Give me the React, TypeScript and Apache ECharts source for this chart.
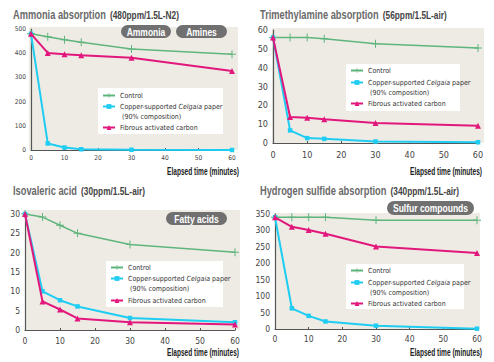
import React, { useEffect, useRef } from "react";
import * as echarts from "echarts";

const times = [0, 5, 10, 15, 30, 60];
const seriesNames = ["Control", "Copper-supported Celgaia paper", "Fibrous activated carbon"];

const ammoniaControl = [480, 468, 456, 445, 417, 396];
const ammoniaCopper = [480, 27, 10, 3, 1, 0];
const ammoniaCarbon = [480, 401, 396, 392, 381, 326];

const tmaControl = [56, 56, 56, 55.4, 52.7, 50.4];
const tmaCopper = [56, 6.7, 2.6, 2.2, 0.8, 0.4];
const tmaCarbon = [56, 13.8, 13.4, 12.6, 10.6, 9.1];

const ivaControl = [30, 29.2, 27.1, 25, 22.1, 20.1];
const ivaCopper = [30, 10, 7.7, 6.1, 3.1, 2];
const ivaCarbon = [30, 7.4, 5.3, 3, 2, 1.4];

const h2sControl = [340, 340, 340, 340, 331, 331];
const h2sCopper = [340, 63, 40, 23, 10, 1];
const h2sCarbon = [340, 311, 301, 290, 251, 231];

const titleMain = ["Ammonia absorption", "Trimethylamine absorption", "Isovaleric acid", "Hydrogen sulfide absorption"];
const titleSub = ["(480ppm/1.5L-N2)", "(56ppm/1.5L-air)", "(30ppm/1.5L-air)", "(340ppm/1.5L-air)"];
const badgeTexts = ["Ammonia", "Amines", "Fatty acids", "Sulfur compounds"];
const yMax = [500, 60, 30, 350];
const yInterval = [100, 10, 5, 50];
const xTicks = { min: 0, max: 60, interval: 10 };
const xName = "Elapsed time (minutes)";

const FONT = "'DejaVu Sans Condensed', 'Liberation Sans', sans-serif";
const TFONT = "'Liberation Sans', Arial, sans-serif";
const GREEN = "#5fb57c";
const CYAN = "#1fcdf2";
const MAGENTA = "#e2177c";
const BG = "#eeebe5";
const PLUS = "path://M3.5,0h1v3.5h3.5v1h-3.5v3.5h-1v-3.5h-3.5v-1h3.5z";

function measure(text: string, font: string): number {
  const c = document.createElement("canvas").getContext("2d")!;
  c.font = font;
  return c.measureText(text).width;
}

export default function App() {
  const ref = useRef<HTMLDivElement>(null);
  useEffect(() => {
    document.body.style.margin = "0";
    const chart = echarts.init(ref.current!, undefined, { renderer: "svg" });

    const grids = [
      { left: 31, top: 29, width: 201, height: 121 },
      { left: 273, top: 30, width: 205, height: 113 },
      { left: 25, top: 214, width: 210, height: 116 },
      { left: 275, top: 214, width: 202, height: 115 },
    ];
    const labelSizes = [6.5, 9, 8.5, 8.5];
    const xMargins = [4, 7, 6, 5];
    const panelData = [
      [ammoniaControl, ammoniaCopper, ammoniaCarbon],
      [tmaControl, tmaCopper, tmaCarbon],
      [ivaControl, ivaCopper, ivaCarbon],
      [h2sControl, h2sCopper, h2sCarbon],
    ];
    const bgRects = [
      [29, 27, 209, 123],
      [272, 28, 212, 115],
      [25, 210, 215, 120],
      [275, 213, 205, 116],
    ];
    const legendBoxes = [
      [98, 88, 125, 46],
      [346, 64, 114, 47],
      [106, 261, 117, 46],
      [346, 264, 118, 45],
    ];
    const legendPos = [
      { x: 102, c: [97, 108, 129] },
      { x: 350, c: [72, 84, 105] },
      { x: 110, c: [269, 280, 302] },
      { x: 350, c: [272, 284, 305] },
    ];
    const titlePos = [
      [13, 15],
      [260, 15],
      [13, 191],
      [260, 191],
    ];
    const xNamePos = [
      [239, 171],
      [482, 171],
      [239, 352],
      [482, 352],
    ];
    const badgeBoxes = [
      { x: 121, y: 25, w: 50, h: 13 },
      { x: 176, y: 25, w: 51, h: 13 },
      { x: 166, y: 212, w: 61, h: 13 },
      { x: 387, y: 201, w: 87, h: 14 },
    ];

    const colors = [GREEN, CYAN, MAGENTA];
    const symbols = [PLUS, "rect", "triangle"];
    const symbolSizes = [8, 4.5, 6];
    const lineWidths = [1.5, 2, 2];

    const series: any[] = [];
    panelData.forEach((arr, p) => {
      arr.forEach((vals, s) => {
        series.push({
          type: "line",
          name: seriesNames[s],
          xAxisIndex: p,
          yAxisIndex: p,
          data: times.map((t, i) => [t, vals[i]]),
          symbol: symbols[s],
          symbolSize: symbolSizes[s],
          showSymbol: true,
          itemStyle: { color: colors[s] },
          lineStyle: { color: colors[s], width: lineWidths[s] },
          z: s === 0 ? 3 : s === 1 ? 4 : 5,
        });
      });
    });

    const legendRich = {
      t: { fontFamily: FONT, fontSize: 7, color: "#333", lineHeight: 10 },
      i: { fontFamily: FONT, fontSize: 7, color: "#333", lineHeight: 10, fontStyle: "italic" },
    };
    const legends: any[] = [];
    legendPos.forEach((lp) => {
      seriesNames.forEach((nm, s) => {
        legends.push({
          data: [nm],
          left: lp.x,
          top: lp.c[s] - 5,
          orient: "vertical",
          padding: 0,
          itemWidth: 12,
          itemHeight: 6,
          selectedMode: false,
          z: 6,
          formatter: (name: string) =>
            name === seriesNames[1]
              ? "{t|Copper-supported }{i|Celgaia}{t| paper}\n{t| (90% composition)}"
              : "{t|" + name + "}",
          textStyle: s === 1 ? { padding: [10, 0, 0, 0], rich: legendRich } : { rich: legendRich },
        });
      });
    });

    const titleFont = "bold 12px " + TFONT;
    const titleScale = 93 / measure(titleMain[0], titleFont);
    const subFont = "bold 10px " + TFONT;
    const subScale = 69 / measure(titleSub[0], subFont);
    const badgeFont = "bold 10.5px " + TFONT;
    const badgeScale = 75 / measure(badgeTexts[3], badgeFont);
    const xnFont = "bold 10px " + TFONT;
    const xnScale = 72 / measure(xName, xnFont);

    const graphic: any[] = [];
    bgRects.forEach((r) =>
      graphic.push({
        type: "rect",
        shape: { x: r[0], y: r[1], width: r[2], height: r[3] },
        style: { fill: BG },
        z: -10,
        z2: 0,
        silent: true,
      })
    );
    legendBoxes.forEach((r) =>
      graphic.push({
        type: "rect",
        shape: { x: r[0], y: r[1], width: r[2], height: r[3] },
        style: { fill: "#ffffff" },
        z: 1,
        z2: 100,
        silent: true,
      })
    );
    badgeBoxes.forEach((b, i) => {
      graphic.push({
        type: "rect",
        shape: { x: b.x, y: b.y, width: b.w, height: b.h, r: b.h / 2 },
        style: { fill: "#707070" },
        z: 20,
        z2: 100,
      });
      graphic.push({
        type: "text",
        x: b.x + b.w / 2,
        y: b.y + b.h / 2 + 0.5,
        scaleX: badgeScale,
        style: {
          text: badgeTexts[i],
          fill: "#ffffff",
          font: badgeFont,
          textAlign: "center",
          textVerticalAlign: "middle",
        },
        z: 21,
        z2: 101,
      });
    });
    titleMain.forEach((t, p) => {
      const mw = measure(t, titleFont) * titleScale;
      graphic.push({
        type: "text",
        x: titlePos[p][0],
        y: titlePos[p][1],
        scaleX: titleScale,
        style: { text: t, font: titleFont, fill: "#6a6a6a", textVerticalAlign: "middle" },
        z: 20,
      });
      graphic.push({
        type: "text",
        x: titlePos[p][0] + mw + 4,
        y: titlePos[p][1] + 0.5,
        scaleX: subScale,
        style: { text: titleSub[p], font: subFont, fill: "#444", textVerticalAlign: "middle" },
        z: 20,
      });
      graphic.push({
        type: "text",
        x: xNamePos[p][0],
        y: xNamePos[p][1],
        scaleX: xnScale,
        style: {
          text: xName,
          fill: "#222",
          font: xnFont,
          textAlign: "right",
          textVerticalAlign: "middle",
        },
        z: 20,
      });
    });

    chart.setOption({
      animation: false,
      grid: grids.map((g) => ({ ...g, containLabel: false })),
      xAxis: grids.map((_, p) => ({
        type: "value",
        gridIndex: p,
        min: xTicks.min,
        max: xTicks.max,
        interval: xTicks.interval,
        axisLine: { lineStyle: { color: "#555", width: 1.2 } },
        axisTick: { inside: true, length: 2, lineStyle: { color: "#555" } },
        splitLine: { show: false },
        axisLabel: { fontFamily: FONT, fontSize: labelSizes[p], color: "#444", margin: xMargins[p] },
      })),
      yAxis: grids.map((_, p) => ({
        type: "value",
        gridIndex: p,
        min: 0,
        max: yMax[p],
        interval: yInterval[p],
        axisLine: { show: true, lineStyle: { color: "#555", width: 1.2 } },
        axisTick: { show: false },
        splitLine: { show: false },
        axisLabel: { fontFamily: FONT, fontSize: labelSizes[p], color: "#444", margin: 5 },
      })),
      legend: legends,
      series,
      graphic,
    });
    return () => chart.dispose();
  }, []);
  return <div ref={ref} style={{ width: 494, height: 362 }} />;
}
